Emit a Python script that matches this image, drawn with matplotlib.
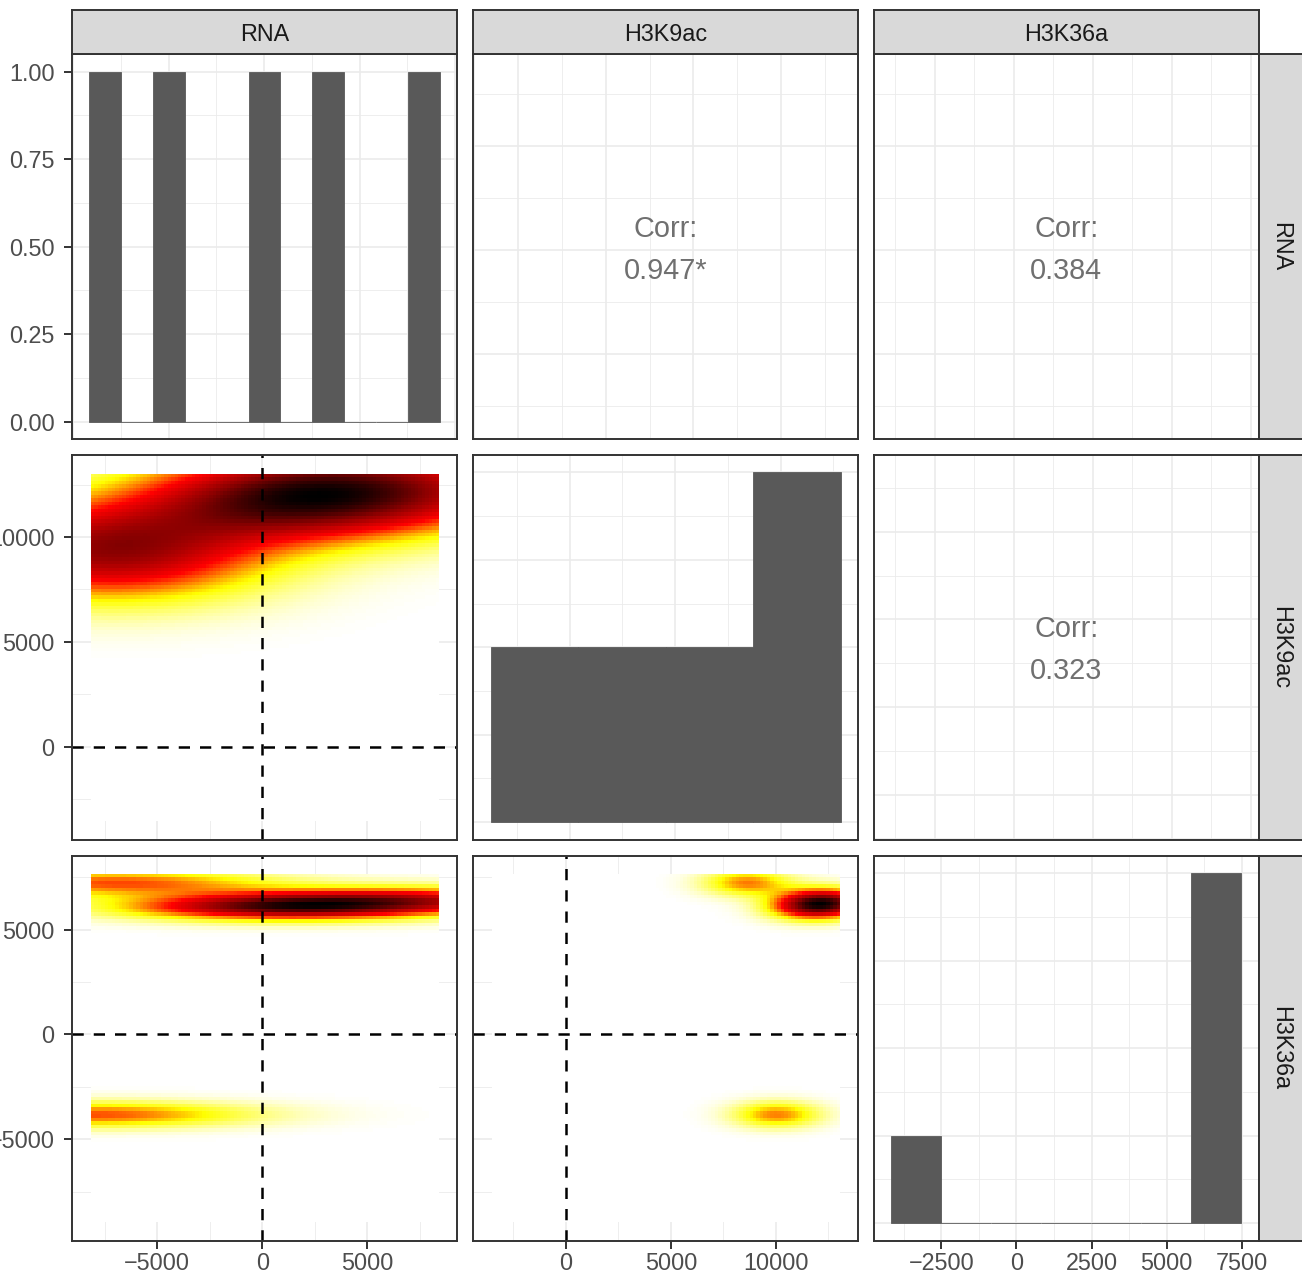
import numpy as np
import matplotlib
matplotlib.use("Agg")
import matplotlib.pyplot as plt
from matplotlib.colors import LinearSegmentedColormap
from matplotlib.ticker import MultipleLocator, FuncFormatter

plt.rcParams['font.family'] = ['Liberation Sans', 'DejaVu Sans']

variables = ['RNA', 'H3K9ac', 'H3K36a']

# sample values behind the 2d densities (lower panels)
rna = [-8000, -7000, 500, 2000, 7500]
h3k9ac = [10000, 8600, 11500, 12300, 12300]
h3k36a = [-3800, 7200, 6000, 6150, 6450]

# histograms on the diagonal: bin range and counts per bin
rna_bins = (-9140, 9180)
rna_counts = [1, 0, 1, 0, 0, 1, 0, 1, 0, 0, 1]
h3k9ac_bins = (-3751, 12838)
h3k9ac_counts = [1, 1, 1, 2]
h3k36a_bins = (-4172, 7489)
h3k36a_counts = [1, 0, 0, 0, 0, 0, 4]

# upper panels
corr_labels = {(0, 1): '0.947*', (0, 2): '0.384', (1, 2): '0.323'}

samples = {'RNA': rna, 'H3K9ac': h3k9ac, 'H3K36a': h3k36a}
hists = {'RNA': (rna_bins, rna_counts),
         'H3K9ac': (h3k9ac_bins, h3k9ac_counts),
         'H3K36a': (h3k36a_bins, h3k36a_counts)}
bw = {'RNA': 5200, 'H3K9ac': 1450, 'H3K36a': 430}

lower_lim = {'RNA': (-9062, 9271), 'H3K9ac': (-4424, 13910), 'H3K36a': (-9810, 8524)}
cor_lim = {'RNA': (-9087, 9423), 'H3K9ac': (-7566, 14384), 'H3K36a': (-4430, 7753)}
step = {'RNA': 5000, 'H3K9ac': 5000, 'H3K36a': 2500}
lower_step = {'RNA': 5000, 'H3K9ac': 5000, 'H3K36a': 5000}
count_step = {'RNA': 0.25, 'H3K9ac': 0.5, 'H3K36a': 1}

heat = LinearSegmentedColormap.from_list('heat', ['white', 'yellow', 'red', '#8B0000', 'black'])

W, H = 1302, 1277
fig = plt.figure(figsize=(W / 100, H / 100), dpi=100)
col_px = [(72, 457), (473, 858), (873.5, 1259)]
row_px = [(54, 439.3), (455, 839.5), (855.5, 1240.5)]


def add_px(x0, y0, x1, y1):
    return fig.add_axes([x0 / W, 1 - y1 / H, (x1 - x0) / W, (y1 - y0) / H])


def num(v, pos=None):
    return f"{v:.0f}".replace('-', '\u2212')


def style(ax, xstep, ystep):
    ax.xaxis.set_major_locator(MultipleLocator(xstep))
    ax.xaxis.set_minor_locator(MultipleLocator(xstep / 2))
    ax.yaxis.set_major_locator(MultipleLocator(ystep))
    ax.yaxis.set_minor_locator(MultipleLocator(ystep / 2))
    ax.grid(which='major', color='#EBEBEB', lw=1.2)
    ax.grid(which='minor', color='#EBEBEB', lw=0.6)
    ax.set_axisbelow(True)
    for s in ax.spines.values():
        s.set_color('#333333')
        s.set_linewidth(1.4)
        s.set_zorder(5)
    ax.tick_params(which='minor', length=0)
    ax.tick_params(which='major', length=6, width=1.4, color='#333333',
                   labelsize=16.8, labelcolor='#4D4D4D')
    ax.tick_params(axis='x', pad=2.5)
    ax.tick_params(axis='y', pad=6.5)
    ax.tick_params(bottom=False, left=False, labelbottom=False, labelleft=False)


def kde(xs, ys, gx, gy, sx, sy):
    xs = np.asarray(xs, float)[:, None]
    ys = np.asarray(ys, float)[:, None]
    zx = np.exp(-0.5 * ((gx[None, :] - xs) / sx) ** 2)
    zy = np.exp(-0.5 * ((gy[None, :] - ys) / sy) ** 2)
    return zy.T @ zx


def grid_for(lim):
    c = (lim[0] + lim[1]) / 2
    h = (lim[1] - lim[0]) / 2 / 1.12
    return np.linspace(c - h, c + h, 100)


axes = {}
for i, yv in enumerate(variables):
    for j, xv in enumerate(variables):
        ax = add_px(col_px[j][0], row_px[i][0], col_px[j][1], row_px[i][1])
        axes[(i, j)] = ax
        if i == j:
            (lo, hi), counts = hists[xv]
            edges = np.linspace(lo, hi, len(counts) + 1)
            ax.bar(edges[:-1], counts, width=np.diff(edges), align='edge',
                   color='#595959', edgecolor='#595959', linewidth=0.6)
            pad = (hi - lo) * 0.05
            ax.set_xlim(lo - pad, hi + pad)
            top = max(counts)
            ax.set_ylim(-0.05 * top, 1.05 * top)
            style(ax, step[xv], count_step[xv])
        elif i > j:
            xlim, ylim = lower_lim[xv], lower_lim[yv]
            gx, gy = grid_for(xlim), grid_for(ylim)
            z = kde(samples[xv], samples[yv], gx, gy, bw[xv], bw[yv])
            dx, dy = gx[1] - gx[0], gy[1] - gy[0]
            ax.imshow(z, extent=[gx[0] - dx / 2, gx[-1] + dx / 2, gy[0] - dy / 2, gy[-1] + dy / 2],
                      origin='lower', aspect='auto', interpolation='nearest', cmap=heat,
                      vmin=z.min(), vmax=z.max(), zorder=1)
            dash = dict(color='black', lw=1.8, linestyle=(0, (4.5, 4.0)), zorder=3)
            ax.axvline(0, **dash)
            ax.axhline(0, **dash)
            ax.set_xlim(xlim)
            ax.set_ylim(ylim)
            style(ax, lower_step[xv], lower_step[yv])
        else:
            ax.set_xlim(cor_lim[xv])
            ax.set_ylim(cor_lim[yv])
            style(ax, step[xv], step[yv])
            ax.text(0.5, 0.526, 'Corr:', transform=ax.transAxes, ha='center',
                    va='baseline', fontsize=20.8, color='#707070')
            ax.text(0.5, 0.417, corr_labels[(i, j)], transform=ax.transAxes,
                    ha='center', va='baseline', fontsize=20.8, color='#707070')

# outer axes
axes[(0, 0)].tick_params(left=True, labelleft=True)
axes[(0, 0)].yaxis.set_major_formatter(FuncFormatter(lambda v, p: f"{v:.2f}"))
for i in (1, 2):
    axes[(i, 0)].tick_params(left=True, labelleft=True)
    axes[(i, 0)].yaxis.set_major_formatter(FuncFormatter(num))
for j in range(3):
    axes[(2, j)].tick_params(bottom=True, labelbottom=True)
    axes[(2, j)].xaxis.set_major_formatter(FuncFormatter(num))


def strip(x0, y0, x1, y1, name, rot):
    s = add_px(x0, y0, x1, y1)
    s.set_facecolor('#D9D9D9')
    s.set_xticks([])
    s.set_yticks([])
    for sp in s.spines.values():
        sp.set_color('#333333')
        sp.set_linewidth(1.4)
    s.text(0.5, 0.5, name, ha='center', va='center_baseline' if rot == 0 else 'center',
           rotation=rot, fontsize=16.8, color='#1A1A1A', transform=s.transAxes)


for j, name in enumerate(variables):
    strip(col_px[j][0], 9.5, col_px[j][1], 54, name, 0)
for i, name in enumerate(variables):
    strip(1259, row_px[i][0], 1303, row_px[i][1], name, -90)

fig.savefig('out.png', dpi=100)
